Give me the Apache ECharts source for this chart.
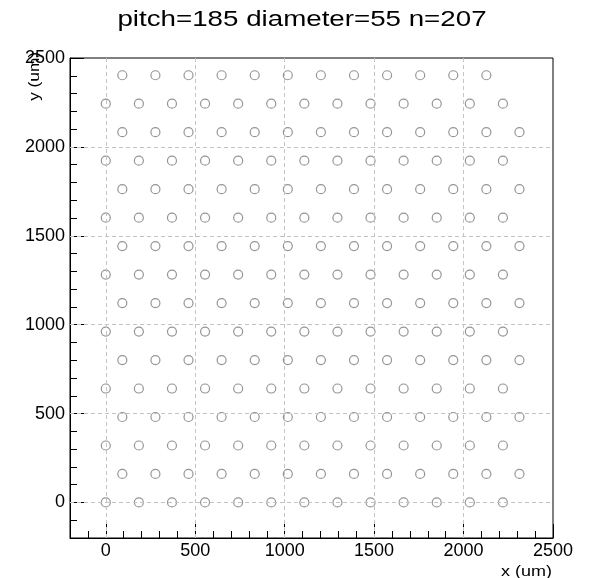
<!DOCTYPE html>
<html>
<head>
<meta charset="utf-8">
<script src="https://cdn.jsdelivr.net/npm/echarts@6/dist/echarts.min.js"></script>
<style>html,body{margin:0;padding:0;background:#fff;}#c{width:590px;height:578px;}</style>
</head>
<body>
<div id="c"></div>
<script>
// ---- data ----
var rowY = [0, 160.2, 320.4, 480.6, 640.8, 801, 961.2, 1121.4, 1281.6, 1441.8, 1602, 1762.2, 1922.4, 2082.6, 2242.8, 2403];
var evenRowX = [0, 185, 370, 555, 740, 925, 1110, 1295, 1480, 1665, 1850, 2035, 2220];
var oddRowX = [92.5, 277.5, 462.5, 647.5, 832.5, 1017.5, 1202.5, 1387.5, 1572.5, 1757.5, 1942.5, 2127.5, 2312.5];
var topRowX = [92.5, 277.5, 462.5, 647.5, 832.5, 1017.5, 1202.5, 1387.5, 1572.5, 1757.5, 1942.5, 2127.5];
var majorTicks = [0, 500, 1000, 1500, 2000, 2500];
var gridValues = [0, 500, 1000, 1500, 2000];
var titleText = 'pitch=185 diameter=55 n=207';
var xTitle = 'x (um)';
var yTitle = 'y (um)';

var points = [];
rowY.forEach(function (y, i) {
  var xs = (i === rowY.length - 1) ? topRowX : (i % 2 === 0 ? evenRowX : oddRowX);
  xs.forEach(function (x) { points.push([x, y]); });
});

var FONT = 'Liberation Sans, Arial, Helvetica, sans-serif';
var chart = echarts.init(document.getElementById('c'), null, {renderer: 'canvas'});

function mkMajor(pos) {
  return {
    type: 'value', min: -200, max: 2500, position: pos,
    axisLine: {show: true, onZero: false, lineStyle: {color: '#000', width: 1}},
    axisTick: {show: true, inside: true, length: 14, customValues: majorTicks,
      lineStyle: {color: '#000', width: 1}},
    axisLabel: {show: true, customValues: majorTicks, color: '#000',
      fontFamily: FONT, fontSize: 18, margin: pos === 'left' ? 5 : 4,
      formatter: function (v) { return String(v); }},
    splitLine: {show: false}
  };
}
function mkMinor(pos) {
  return {
    type: 'value', min: -200, max: 2500, interval: 100, position: pos,
    axisLine: {show: false, onZero: false},
    axisTick: {show: true, inside: true, length: 7, lineStyle: {color: '#000', width: 1}},
    axisLabel: {show: false},
    splitLine: {show: false}
  };
}

var mlData = [];
gridValues.forEach(function (v) { mlData.push({xAxis: v}); });
gridValues.forEach(function (v) { mlData.push({yAxis: v}); });

chart.setOption({
  animation: false,
  backgroundColor: '#fff',
  grid: {left: 70, right: 37, top: 58, bottom: 40, show: true, borderColor: '#000', borderWidth: 1, backgroundColor: 'transparent'},
  xAxis: [mkMajor('bottom'), mkMinor('bottom')],
  yAxis: [mkMajor('left'), mkMinor('left')],
  series: [{
    type: 'scatter', xAxisIndex: 0, yAxisIndex: 0,
    data: points,
    symbol: 'circle', symbolSize: 9,
    itemStyle: {color: 'rgba(0,0,0,0)', borderColor: '#7a7a7a', borderWidth: 1.2},
    z: 3,
    markLine: {
      silent: true, symbol: 'none', animation: false,
      label: {show: false},
      lineStyle: {color: '#c4c4c4', type: [4, 3], width: 1},
      data: mlData
    }
  }],
  graphic: [
    {type: 'text', x: 302, y: 9, scaleX: 1.26, style: {text: titleText, fill: '#000', font: '22px ' + FONT, textAlign: 'center', textVerticalAlign: 'top'}},
    {type: 'text', x: 552, y: 572, scaleX: 1.2, style: {text: xTitle, fill: '#000', font: '15px ' + FONT, textAlign: 'right', textVerticalAlign: 'middle'}},
    {type: 'text', x: 35, y: 52, rotation: Math.PI / 2, scaleX: 1.15, style: {text: yTitle, fill: '#000', font: '15px ' + FONT, textAlign: 'right', textVerticalAlign: 'middle'}}
  ]
});
</script>
</body>
</html>
